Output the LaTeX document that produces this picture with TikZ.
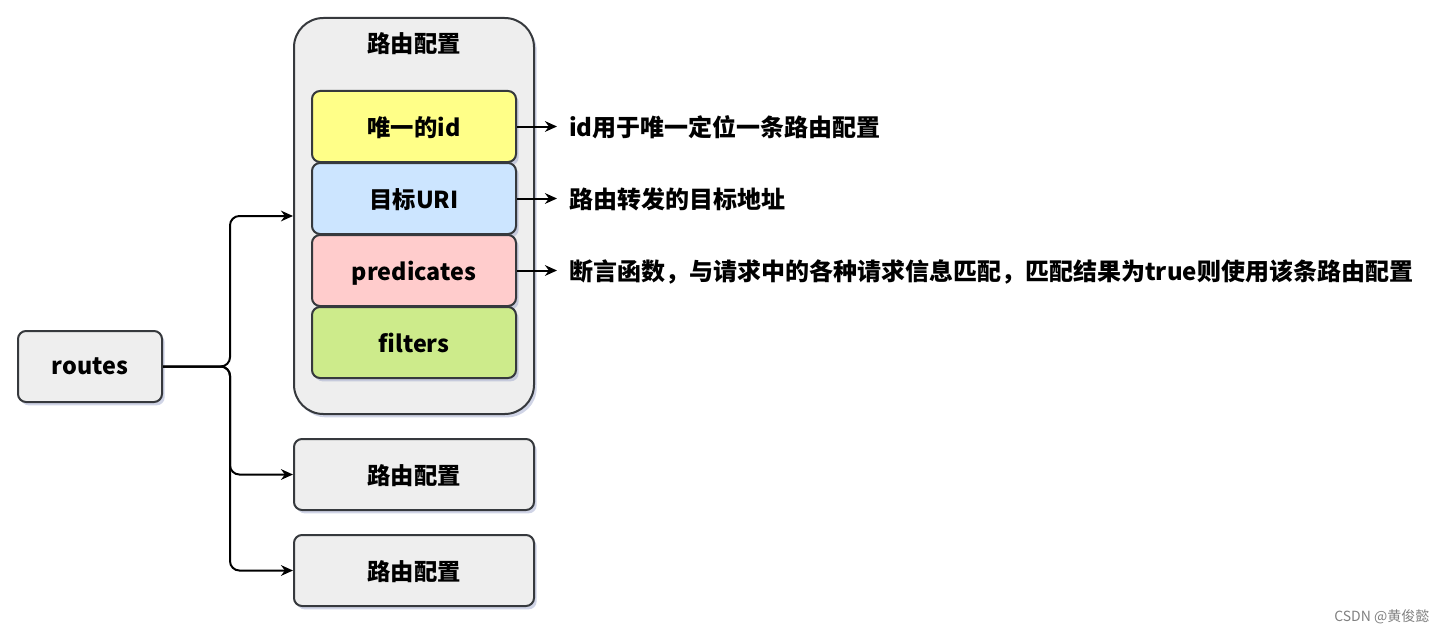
\documentclass[tikz,border=0pt]{standalone}
\usepackage{fontspec}
\setmainfont{Noto Sans CJK SC}
\usepackage{tikz}
\usetikzlibrary{arrows.meta, positioning, shadows}
\definecolor{linecolor}{RGB}{54,57,61}
\definecolor{boxgray}{RGB}{238,238,238}
\definecolor{idyellow}{RGB}{255,255,136}
\definecolor{uriblue}{RGB}{204,229,255}
\definecolor{predpink}{RGB}{255,204,204}
\definecolor{filtgreen}{RGB}{205,235,139}
\definecolor{shadowcolor}{RGB}{150,160,200}

\begin{document}
\begin{tikzpicture}[x=0.75pt, y=-0.75pt,
    box/.style={draw=linecolor, line width=1.5pt, fill=boxgray, rounded corners=6pt,
      font=\bfseries\fontsize{17.5}{19}\selectfont, text depth=0pt,
      drop shadow={shadow xshift=2pt, shadow yshift=-2.5pt, fill=shadowcolor, opacity=0.45}},
    part/.style={box, minimum width=153pt, minimum height=53.25pt},
    note/.style={anchor=west, inner xsep=9pt, font=\bfseries\fontsize{18}{20}\selectfont},
    link/.style={line width=1.5pt, -{Stealth[length=9pt, width=8pt]}}]
  \useasboundingbox (0,0) rectangle (1449,635);
  % left side
  \node[box, minimum width=108pt, minimum height=53.25pt] (routes) at (90,366.5) {routes};
  \coordinate (fork) at (230,366.5);
  % route configurations
  \node[box, rounded corners=22pt, minimum width=180pt, minimum height=297pt] (cfg1) at (414,216) {};
  \node[font=\bfseries\fontsize{17.5}{19}\selectfont] (cfgtitle) at (414,44) {路由配置};
  \node[box, minimum width=180pt, minimum height=53.25pt] (cfg2) at (414,474.5) {路由配置};
  \node[box, minimum width=180pt, minimum height=53.25pt] (cfg3) at (414,570.5) {路由配置};
  % fields
  \node[part, fill=idyellow] (id) at (414,126.5) {唯一的id};
  \node[part, fill=uriblue] (uri) at (414,198.5) {目标URI};
  \node[part, fill=predpink] (pred) at (414,270.5) {predicates};
  \node[part, fill=filtgreen] (filt) at (414,342.5) {filters};
  % notes
  \node[note] (idnote) at (557,127.5) {id用于唯一定位一条路由配置};
  \node[note] (urinote) at (557,199.5) {路由转发的目标地址};
  \node[note] (prednote) at (557,271.5) {断言函数，与请求中的各种请求信息匹配，匹配结果为true则使用该条路由配置};
  \draw[link] (id) -- (id.east -| idnote.west);
  \draw[link] (uri) -- (uri.east -| urinote.west);
  \draw[link] (pred) -- (pred.east -| prednote.west);
  % branches
  \foreach \cfg in {cfg1, cfg2, cfg3}
    \draw[link, rounded corners=7pt] (routes.east) -- (fork) |- (\cfg.west);
  \node[anchor=east, text=gray, font=\fontsize{10.5}{12}\selectfont] (mark) at (1434,617) {CSDN @黄俊懿};
\end{tikzpicture}
\end{document}
